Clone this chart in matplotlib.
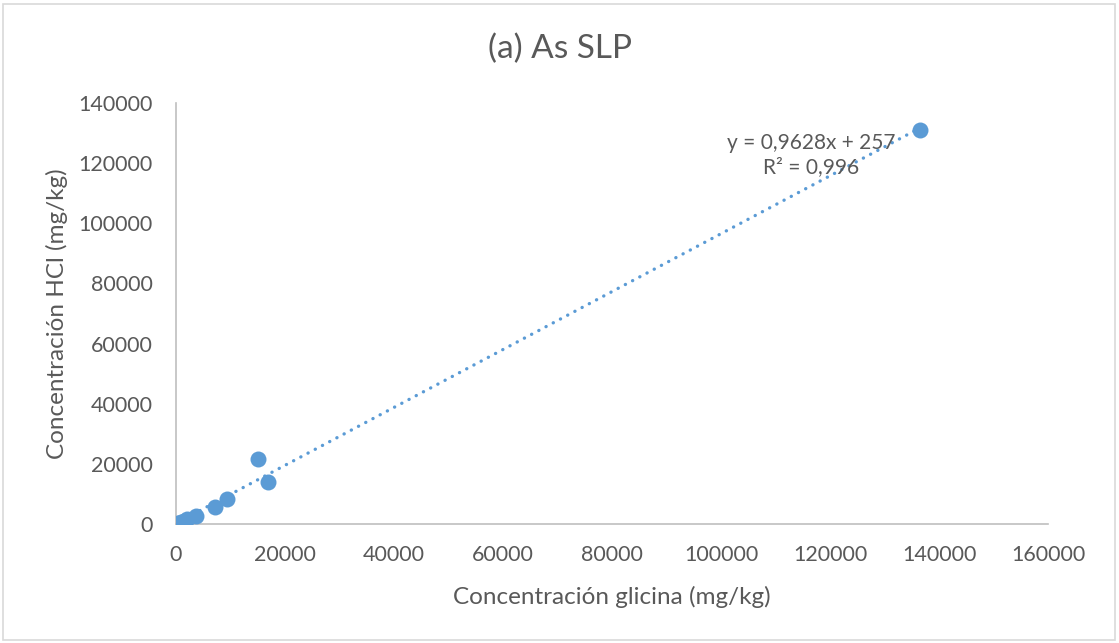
import matplotlib
matplotlib.use("Agg")
import matplotlib.pyplot as plt
from matplotlib.patches import Rectangle
import numpy as np

plt.rcParams['font.family'] = ['Lato', 'DejaVu Sans']

# Concentrations measured with glycine vs HCl extraction (mg/kg)
glicina = [400, 900, 1400, 2000, 3600, 7100, 9400, 15000, 16900, 136500]
hcl = [300, 700, 1100, 1500, 2700, 5800, 8400, 21500, 14000, 131000]

slope = 0.9628
intercept = 257
r2 = 0.996

x_ticks = list(range(0, 160001, 20000))
y_ticks = list(range(0, 140001, 20000))

blue = '#5B9BD5'
grey_text = '#595959'
grey_line = '#BFBFBF'

W, H = 1119, 643
ax_l, ax_r, ax_t, ax_b = 176, 1048, 103, 524
fig = plt.figure(figsize=(W / 100, H / 100), dpi=100)
ax = fig.add_axes([ax_l / W, 1 - ax_b / H, (ax_r - ax_l) / W, (ax_b - ax_t) / H])

ax.scatter(glicina, hcl, s=11.5 ** 2, color=blue, zorder=3, linewidths=0)

xt = np.array([min(glicina), max(glicina)])
ax.plot(xt, slope * xt + intercept, color=blue, lw=2.4,
        linestyle=(0, (0.05, 2.4)), dash_capstyle='round', zorder=2)

ax.set_xlim(0, 160000)
ax.set_ylim(0, 140000)
ax.set_xticks(x_ticks)
ax.set_yticks(y_ticks)
ax.tick_params(length=0, labelsize=15.5, labelcolor=grey_text)
ax.tick_params(axis='x', pad=15)
ax.tick_params(axis='y', pad=17)

for s in ['top', 'right']:
    ax.spines[s].set_visible(False)
for s in ['left', 'bottom']:
    ax.spines[s].set_color(grey_line)
    ax.spines[s].set_linewidth(1.2)

ax.set_xlabel('Concentración glicina (mg/kg)', fontsize=17.5, color=grey_text)
ax.set_ylabel('Concentración HCl (mg/kg)', fontsize=17.5, color=grey_text)
ax.xaxis.set_label_coords(0.5, (ax_b - 597) / (ax_b - ax_t))
ax.yaxis.set_label_coords((57 - ax_l) / (ax_r - ax_l), 0.5)
ax.xaxis.label.set_va('center')
ax.yaxis.label.set_va('center')

fig.text(0.5, 1 - 49 / H, '(a) As SLP', ha='center', va='center', fontsize=24, color=grey_text)

ax.text(811 / W, 1 - 155 / H,
        f'y = {slope:.4f}x + {intercept}\nR² = {r2:.3f}'.replace('.', ','),
        transform=fig.transFigure, ha='center', va='center', fontsize=15,
        color=grey_text, linespacing=1.2)

fig.patches.append(Rectangle((3 / W, 3 / H), (W - 7) / W, (H - 7) / H,
                             transform=fig.transFigure, fill=False,
                             edgecolor='#D9D9D9', lw=1.2))

fig.savefig('out.png', dpi=100)
